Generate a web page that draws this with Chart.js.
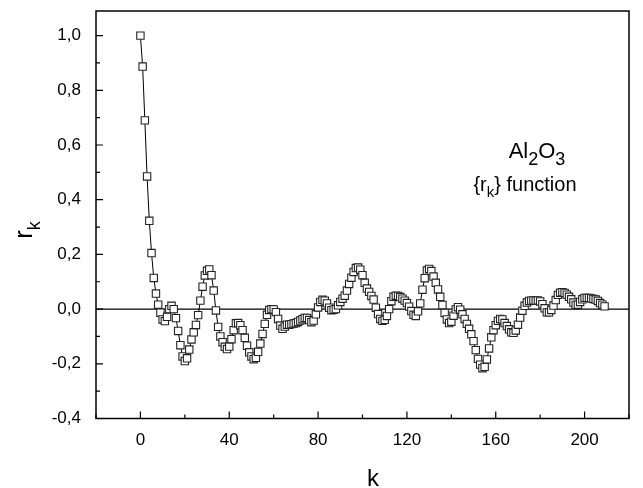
<!DOCTYPE html>
<html><head><meta charset="utf-8">
<script src="https://cdn.jsdelivr.net/npm/chart.js@4/dist/chart.umd.min.js"></script>
<style>html,body{margin:0;padding:0;background:#fff;overflow:hidden}#wrap{position:relative;width:643px;height:488px}</style>
</head><body><div id="wrap"><canvas id="c" width="643" height="488"></canvas></div>
<script>
const lags = [0,1,2,3,4,5,6,7,8,9,10,11,12,13,14,15,16,17,18,19,20,21,22,23,24,25,26,27,28,29,30,31,32,33,34,35,36,37,38,39,40,41,42,43,44,45,46,47,48,49,50,51,52,53,54,55,56,57,58,59,60,61,62,63,64,65,66,67,68,69,70,71,72,73,74,75,76,77,78,79,80,81,82,83,84,85,86,87,88,89,90,91,92,93,94,95,96,97,98,99,100,101,102,103,104,105,106,107,108,109,110,111,112,113,114,115,116,117,118,119,120,121,122,123,124,125,126,127,128,129,130,131,132,133,134,135,136,137,138,139,140,141,142,143,144,145,146,147,148,149,150,151,152,153,154,155,156,157,158,159,160,161,162,163,164,165,166,167,168,169,170,171,172,173,174,175,176,177,178,179,180,181,182,183,184,185,186,187,188,189,190,191,192,193,194,195,196,197,198,199,200,201,202,203,204,205,206,207,208,209];
const rk = [1.0,0.887,0.69,0.485,0.323,0.205,0.114,0.057,0.016,-0.013,
-0.038,-0.044,-0.028,0.0,0.012,0.0,-0.033,-0.08,-0.132,-0.173,
-0.19,-0.18,-0.148,-0.111,-0.085,-0.058,-0.022,0.031,0.082,0.123,
0.14,0.145,0.124,0.068,-0.005,-0.065,-0.1,-0.121,-0.138,-0.146,
-0.137,-0.11,-0.077,-0.052,-0.051,-0.059,-0.077,-0.105,-0.134,-0.158,
-0.173,-0.183,-0.178,-0.156,-0.126,-0.091,-0.054,-0.021,-0.003,0.0,
-0.001,-0.011,-0.036,-0.06,-0.072,-0.064,-0.057,-0.057,-0.055,-0.053,
-0.051,-0.047,-0.042,-0.037,-0.032,-0.032,-0.04,-0.048,-0.042,-0.019,
0.006,0.026,0.034,0.031,0.021,0.005,-0.004,-0.002,0.0,0.014,
0.026,0.038,0.049,0.068,0.092,0.115,0.136,0.15,0.152,0.144,
0.124,0.096,0.075,0.063,0.048,0.035,0.005,-0.018,-0.036,-0.043,
-0.039,-0.025,0.0,0.029,0.045,0.049,0.048,0.044,0.038,0.031,
0.022,0.009,-0.007,-0.021,-0.025,-0.008,0.021,0.071,0.113,0.141,
0.147,0.139,0.119,0.096,0.072,0.045,0.015,-0.014,-0.038,-0.051,
-0.046,-0.024,-0.001,0.007,-0.002,-0.019,-0.036,-0.054,-0.072,-0.092,
-0.117,-0.15,-0.182,-0.203,-0.216,-0.211,-0.184,-0.144,-0.103,-0.077,
-0.059,-0.043,-0.036,-0.038,-0.051,-0.062,-0.074,-0.085,-0.087,-0.078,
-0.057,-0.031,-0.006,0.012,0.024,0.03,0.031,0.032,0.031,0.032,
0.028,0.018,0.003,-0.012,-0.012,-0.003,0.013,0.033,0.052,0.06,
0.062,0.059,0.053,0.045,0.036,0.024,0.015,0.016,0.026,0.036,
0.041,0.041,0.041,0.039,0.037,0.035,0.03,0.022,0.016,0.01];
const xTicks = [0,40,80,120,160,200];
const xMinor = [-20,20,60,100,140,180,220];
const yTicks = [-0.4,-0.2,0.0,0.2,0.4,0.6,0.8,1.0];
const yMinor = [-0.3,-0.1,0.1,0.3,0.5,0.7,0.9];

const FONT = '"Liberation Sans", Arial, sans-serif';

const decor = {
  id: 'decor',
  beforeDatasetsDraw(chart) {
    const {ctx, chartArea: a, scales: {x, y}} = chart;
    ctx.save();
    ctx.strokeStyle = '#000';
    ctx.lineWidth = 1.3;
    const y0 = y.getPixelForValue(0);
    ctx.beginPath(); ctx.moveTo(a.left, y0); ctx.lineTo(a.right, y0); ctx.stroke();
    ctx.restore();
  },
  afterDraw(chart) {
    const {ctx, chartArea: a, scales: {x, y}} = chart;
    ctx.save();
    ctx.strokeStyle = '#000';
    ctx.lineWidth = 1.5;
    ctx.strokeRect(a.left, a.top, a.right - a.left, a.bottom - a.top);
    ctx.lineWidth = 1.2;
    ctx.beginPath();
    xTicks.forEach(v => { const p = x.getPixelForValue(v); ctx.moveTo(p, a.bottom); ctx.lineTo(p, a.bottom - 7); });
    xMinor.forEach(v => { const p = x.getPixelForValue(v); ctx.moveTo(p, a.bottom); ctx.lineTo(p, a.bottom - 4); });
    yTicks.forEach(v => { const p = y.getPixelForValue(v); ctx.moveTo(a.left, p); ctx.lineTo(a.left + 7, p); });
    yMinor.forEach(v => { const p = y.getPixelForValue(v); ctx.moveTo(a.left, p); ctx.lineTo(a.left + 4, p); });
    ctx.stroke();

    ctx.fillStyle = '#000';
    // x title
    ctx.font = '24px ' + FONT;
    ctx.textAlign = 'center'; ctx.textBaseline = 'alphabetic';
    ctx.fillText('k', 373, 486);
    // y title r_k
    ctx.save();
    ctx.translate(32, 230);
    ctx.rotate(-Math.PI / 2);
    ctx.textAlign = 'left';
    ctx.font = '25px ' + FONT;
    const wr = ctx.measureText('r').width;
    ctx.font = '18px ' + FONT;
    const wk = ctx.measureText('k').width;
    const x0 = -(wr + wk) / 2;
    ctx.font = '25px ' + FONT;
    ctx.fillText('r', x0, 0);
    ctx.font = '18px ' + FONT;
    ctx.fillText('k', x0 + wr, 8);
    ctx.restore();

    // annotation Al2O3
    const parts = [['Al', 22, 0], ['2', 18, 7], ['O', 22, 0], ['3', 18, 7]];
    let tw = 0;
    parts.forEach(p => { ctx.font = p[1] + 'px ' + FONT; tw += ctx.measureText(p[0]).width; });
    let cx = 537 - tw / 2;
    ctx.textAlign = 'left';
    parts.forEach(p => { ctx.font = p[1] + 'px ' + FONT; ctx.fillText(p[0], cx, 158 + p[2]); cx += ctx.measureText(p[0]).width; });
    // {r_k} function
    const parts2 = [['{r', 20, 0], ['k', 15, 6], ['} function', 20, 0]];
    tw = 0;
    parts2.forEach(p => { ctx.font = p[1] + 'px ' + FONT; tw += ctx.measureText(p[0]).width; });
    cx = 525 - tw / 2;
    parts2.forEach(p => { ctx.font = p[1] + 'px ' + FONT; ctx.fillText(p[0], cx, 191 + p[2]); cx += ctx.measureText(p[0]).width; });
    ctx.restore();
  }
};

new Chart(document.getElementById('c'), {
  type: 'scatter',
  data: {
    datasets: [{
      data: lags.map((k, i) => ({x: k, y: rk[i]})),
      showLine: true,
      borderColor: '#000',
      borderWidth: 1,
      pointStyle: 'rect',
      pointRadius: 5.2,
      pointBackgroundColor: '#fff',
      pointBorderColor: '#222',
      pointBorderWidth: 1.1,
      tension: 0
    }]
  },
  options: {
    responsive: false,
    animation: false,
    events: [],
    layout: {padding: {left: 0, top: 11, right: 14, bottom: 0}},
    plugins: {legend: {display: false}, tooltip: {enabled: false}},
    scales: {
      x: {
        type: 'linear', min: -20, max: 220,
        afterBuildTicks: s => { s.ticks = xTicks.map(v => ({value: v})); },
        afterFit: s => { s.height = 69.5; s.paddingLeft = 0; s.paddingRight = 0; },
        grid: {display: false, drawTicks: false},
        border: {display: false},
        ticks: {font: {family: FONT, size: 17}, color: '#000', padding: 12, maxRotation: 0, autoSkip: false,
          callback: v => String(v)}
      },
      y: {
        type: 'linear', min: -0.4, max: 1.09,
        afterBuildTicks: s => { s.ticks = yTicks.map(v => ({value: v})); },
        afterFit: s => { s.width = 96; s.paddingTop = 0; s.paddingBottom = 0; },
        grid: {display: false, drawTicks: false},
        border: {display: false},
        ticks: {font: {family: FONT, size: 17}, color: '#000', padding: 15,
          callback: v => (Math.abs(v) < 1e-9 ? 0 : v).toFixed(1).replace('.', ',')}
      }
    }
  },
  plugins: [decor]
});
</script>
</body></html>
